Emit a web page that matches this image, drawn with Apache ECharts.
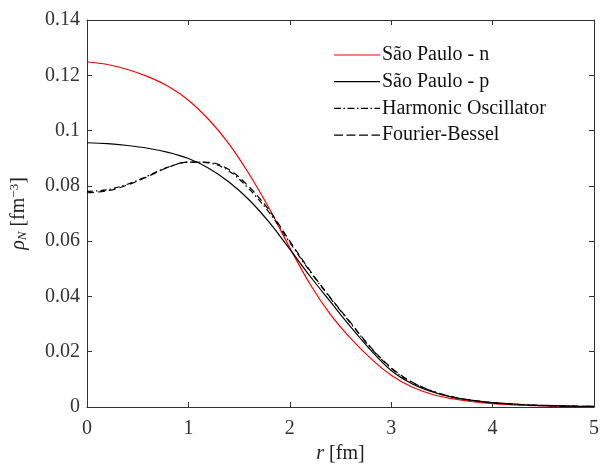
<!DOCTYPE html>
<html>
<head>
<meta charset="utf-8">
<script src="https://cdn.jsdelivr.net/npm/echarts@6/dist/echarts.min.js"></script>
<style>
html,body{margin:0;padding:0;background:#fff;}
#c{width:603px;height:469px;}
</style>
</head>
<body>
<div id="c"></div>
<script>
const r = [0,0.2,0.4,0.6,0.8,1.0,1.2,1.4,1.6,1.8,2.0,2.2,2.4,2.6,2.8,3.0,3.2,3.4,3.6,3.8,4.0,4.2,4.4,4.6,4.8,5.0];
const spN = [0.1248,0.1239,0.1221,0.1195,0.1160,0.1110,0.1040,0.0952,0.0842,0.0716,0.0576,0.0444,0.0335,0.0248,0.0175,0.0115,0.0073,0.0046,0.0030,0.0019,0.0012,0.0008,0.0005,0.0003,0.0002,0.0001];
const spP = [0.0956,0.0953,0.0946,0.0936,0.0921,0.0899,0.0864,0.0814,0.0749,0.0667,0.0571,0.0473,0.0381,0.0290,0.0205,0.0132,0.0085,0.0055,0.0036,0.0024,0.0016,0.0011,0.0007,0.0005,0.0003,0.0002];
const ho  = [0.0780,0.0786,0.0806,0.0836,0.0868,0.0886,0.0883,0.0854,0.0788,0.0702,0.0595,0.0490,0.0394,0.0303,0.0213,0.0140,0.0090,0.0058,0.0037,0.0024,0.0016,0.0010,0.0007,0.0004,0.0003,0.0002];
const fb  = [0.0775,0.0782,0.0803,0.0834,0.0867,0.0886,0.0885,0.0859,0.0796,0.0710,0.0600,0.0493,0.0396,0.0305,0.0215,0.0142,0.0091,0.0058,0.0037,0.0024,0.0015,0.0010,0.0006,0.0004,0.0003,0.0002];
const names = ['São Paulo - n','São Paulo - p','Harmonic Oscillator','Fourier-Bessel'];
const xTicks = [0,1,2,3,4,5];
const yTicks = [0,0.02,0.04,0.06,0.08,0.1,0.12,0.14];

const FONT = 'Liberation Serif';
const axisColor = '#333333';
function pairs(v){ return r.map((x,i)=>[x,v[i]]); }

// legend line-sample icons (46 x 1.2 boxes)
const iconSolid = 'path://M0,0H46V1.2H0Z';
const iconDashDot = 'path://M0,0H7V1.2H0Z M9.5,0H11V1.2H9.5Z M13.5,0H20.5V1.2H13.5Z M23,0H24.5V1.2H23Z M27,0H34V1.2H27Z M36.5,0H38V1.2H36.5Z M40.5,0H46V1.2H40.5Z';
const iconDash = 'path://M0,0H9V1.2H0Z M12.5,0H21.5V1.2H12.5Z M25,0H34V1.2H25Z M37.5,0H46V1.2H37.5Z';

const chart = echarts.init(document.getElementById('c'));
const baseAxis = {
  axisLine:{show:true,onZero:false,lineStyle:{color:axisColor,width:1}},
  axisTick:{show:true,inside:true,length:5,lineStyle:{color:axisColor,width:1}},
  splitLine:{show:false}
};
chart.setOption({
  animation:false,
  backgroundColor:'#fff',
  grid:{left:87,right:9,top:20,bottom:57,containLabel:false},
  legend:{
    data:[
      {name:names[0],icon:iconSolid,itemStyle:{color:'#ff0000'}},
      {name:names[1],icon:iconSolid,itemStyle:{color:'#000'}},
      {name:names[2],icon:iconDashDot,itemStyle:{color:'#000'}},
      {name:names[3],icon:iconDash,itemStyle:{color:'#000'}}
    ],
    orient:'vertical',
    left:329, top:40,
    itemWidth:46, itemHeight:1.2, itemGap:6.7,
    symbolKeepAspect:false,
    textStyle:{fontFamily:FONT,fontSize:20,lineHeight:20,color:'#111',padding:[0,0,0,-3]},
    backgroundColor:'transparent'
  },
  xAxis:[
    Object.assign({},baseAxis,{type:'value',min:0,max:5,interval:1,position:'bottom',
      name:'{i|r} [fm]',nameLocation:'middle',nameGap:37,
      nameTextStyle:{fontFamily:FONT,fontSize:20,color:'#222',rich:{i:{fontFamily:FONT,fontStyle:'italic',fontSize:20,color:'#222'}}},
      axisLabel:{margin:12,fontFamily:FONT,fontSize:20,color:'#333',formatter:v=>xTicks.includes(v)?String(v):''}}),
    Object.assign({},baseAxis,{type:'value',min:0,max:5,interval:1,position:'top',axisLabel:{show:false}})
  ],
  yAxis:[
    Object.assign({},baseAxis,{type:'value',min:0,max:0.14,interval:0.02,position:'left',
      name:'{i|ρ}{sub|N} [fm{sup|−3}]',nameLocation:'middle',nameGap:58,nameRotate:90,
      nameTextStyle:{fontFamily:FONT,fontSize:20,color:'#222',
        rich:{i:{fontFamily:FONT,fontStyle:'italic',fontSize:20,color:'#222'},
              sub:{fontFamily:FONT,fontStyle:'italic',fontSize:13,color:'#222',verticalAlign:'bottom',padding:[8,0,0,0]},
              sup:{fontFamily:FONT,fontSize:13,color:'#222',verticalAlign:'top',padding:[0,0,8,0]}}},
      axisLabel:{margin:7,fontFamily:FONT,fontSize:20,color:'#333',
        formatter:v=>{const t=yTicks.find(y=>Math.abs(y-v)<1e-9);return t===undefined?'':String(t);}}}),
    Object.assign({},baseAxis,{type:'value',min:0,max:0.14,interval:0.02,position:'right',axisLabel:{show:false}})
  ],
  series:[
    {name:names[0],type:'line',data:pairs(spN),smooth:0.35,showSymbol:false,symbol:'none',
      lineStyle:{color:'#ff0000',width:1.2},itemStyle:{color:'#ff0000'},z:3},
    {name:names[1],type:'line',data:pairs(spP),smooth:0.35,showSymbol:false,symbol:'none',
      lineStyle:{color:'#000',width:1.2},itemStyle:{color:'#000'},z:4},
    {name:names[2],type:'line',data:pairs(ho),smooth:0.35,showSymbol:false,symbol:'none',
      lineStyle:{color:'#000',width:1.2,type:[6,3,1.5,3]},itemStyle:{color:'#000'},z:5},
    {name:names[3],type:'line',data:pairs(fb),smooth:0.35,showSymbol:false,symbol:'none',
      lineStyle:{color:'#000',width:1.2,type:[7,4]},itemStyle:{color:'#000'},z:5}
  ]
});
</script>
</body>
</html>
